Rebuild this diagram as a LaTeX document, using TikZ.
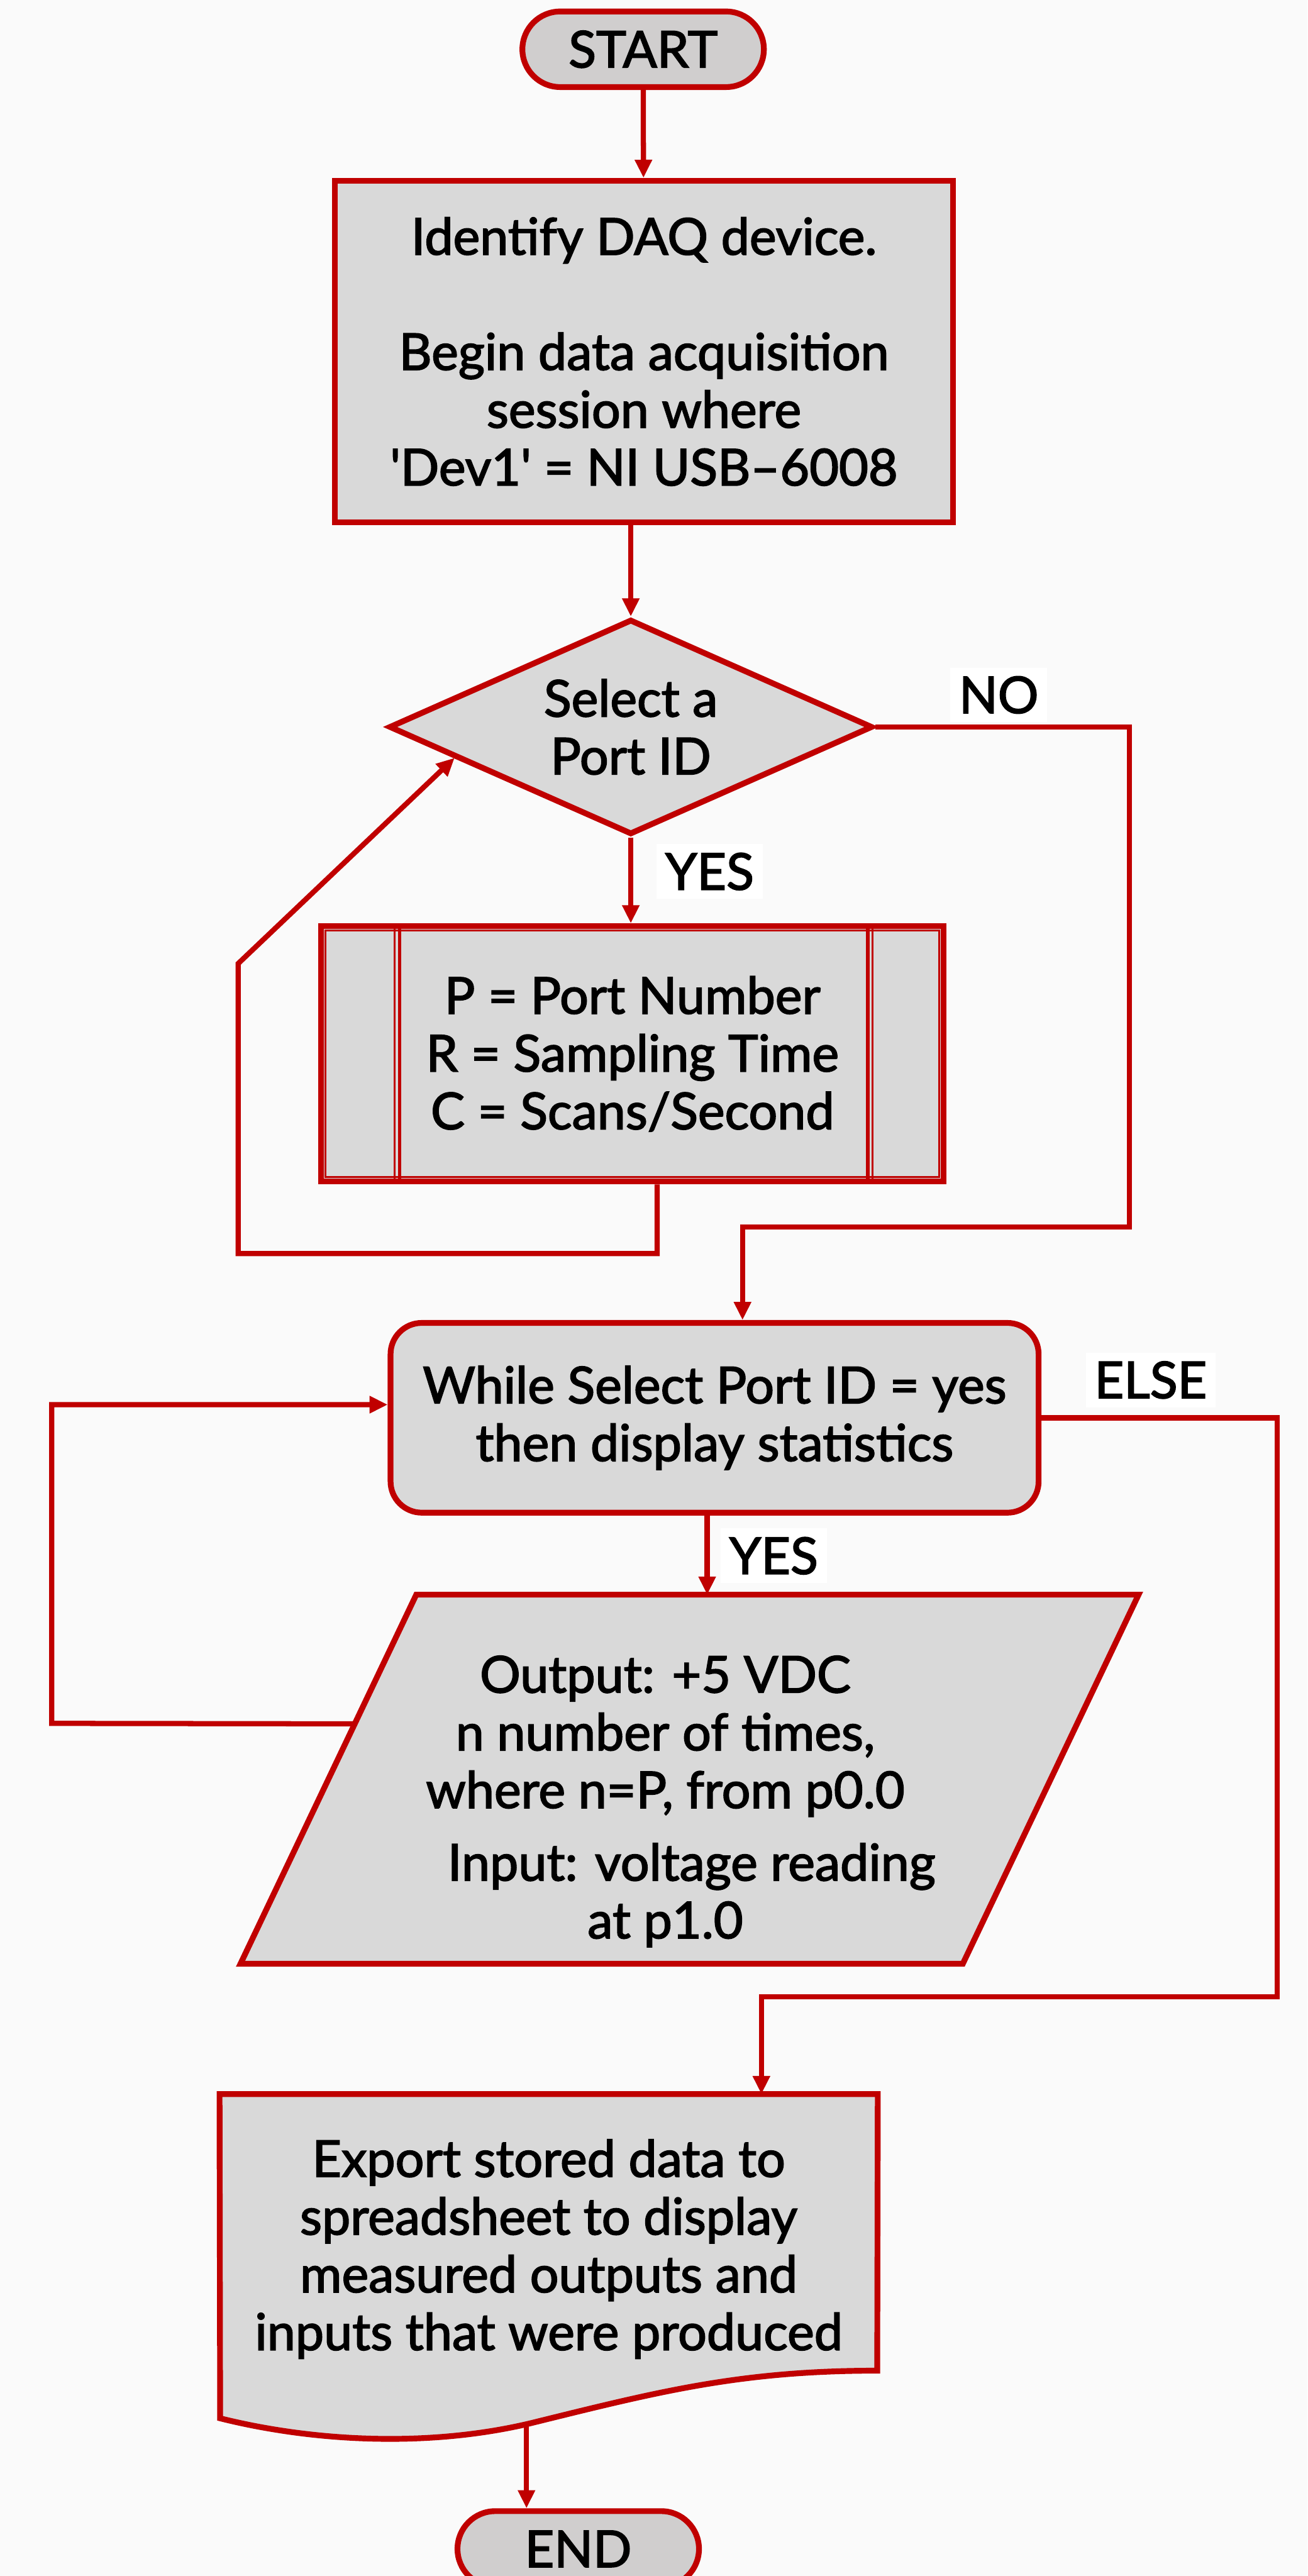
\documentclass[tikz,border=0pt]{standalone}
\usepackage{fontspec}
\setmainfont{Lato}[FakeBold=2.2]
\usetikzlibrary{shapes.geometric, arrows.meta, positioning, calc, backgrounds}

\definecolor{flowred}{RGB}{192,0,0}
\definecolor{boxgray}{RGB}{217,217,217}
\definecolor{termgray}{RGB}{208,206,206}
\definecolor{paper}{RGB}{250,250,250}
\newcommand{\flowfont}{\fontsize{17.6}{20}\selectfont}

\begin{document}
\begin{tikzpicture}[
    % Terminal (start / end)
    terminal/.style={
        rectangle,
        rounded corners=0.46cm,
        draw=flowred,
        line width=2pt,
        fill=termgray,
        minimum width=2.94cm,
        minimum height=0.92cm,
        font=\flowfont
    },
    % Process box
    process/.style={
        rectangle,
        draw=flowred,
        line width=2pt,
        fill=boxgray,
        minimum width=7.52cm,
        minimum height=4.16cm,
        align=center,
        font=\flowfont
    },
    % Decision
    decision/.style={
        diamond,
        aspect=2.25,
        draw=flowred,
        line width=2pt,
        fill=boxgray,
        minimum width=5.89cm,
        minimum height=2.62cm,
        inner sep=0pt,
        align=center,
        font=\flowfont
    },
    % Predefined process
    predef/.style={
        rectangle,
        draw=flowred,
        line width=2pt,
        fill=boxgray,
        minimum width=7.58cm,
        minimum height=3.11cm,
        align=center,
        font=\flowfont
    },
    % Loop box
    loopbox/.style={
        rectangle,
        rounded corners=0.38cm,
        draw=flowred,
        line width=2pt,
        fill=boxgray,
        minimum width=7.89cm,
        minimum height=2.31cm,
        align=center,
        font=\flowfont
    },
    % Frames drawn on the background
    frame/.style={
        draw=flowred,
        line width=2pt,
        fill=boxgray
    },
    textbox/.style={
        rectangle,
        align=center,
        font=\flowfont
    },
    % Branch labels
    answer/.style={
        fill=white,
        inner sep=3pt,
        font=\flowfont
    },
    % Arrow style
    arrow/.style={
        draw=flowred,
        line width=1.8pt,
        -{Triangle[length=0.22cm, width=0.2cm]}
    }
]

\useasboundingbox (0,0) rectangle (15.92,-31.36);

% === Start ===
\node[terminal] (start) at (7.83,-0.60) {START};

% === DAQ session ===
\node[process] (daq) at (7.84,-4.28) {Identify DAQ device.\\[0.7cm]
    Begin data acquisition\\ session where\\
    \textquotesingle Dev1\textquotesingle{} = NI USB–6008};

% === Port selection ===
\node[decision] (select) at (7.68,-8.85) {Select a\\ Port ID};
\node[answer] (no) at (12.16,-8.46) {NO};
\node[answer] (yes1) at (8.64,-10.61) {YES};

\node[predef] (params) at (7.70,-12.83) {P = Port Number\\ R = Sampling Time\\ C = Scans/Second};
\draw[flowred, line width=0.6pt] ([shift={(0.09,-0.09)}]params.north west) rectangle ([shift={(-0.09,0.09)}]params.south east);
\draw[flowred, line width=1.2pt] ([xshift=0.99cm]params.north west) -- ([xshift=0.99cm]params.south west);
\draw[flowred, line width=0.6pt] ([xshift=0.93cm]params.north west) -- ([xshift=0.93cm]params.south west);
\draw[flowred, line width=1.2pt] ([xshift=-0.96cm]params.north east) -- ([xshift=-0.96cm]params.south east);
\draw[flowred, line width=0.6pt] ([xshift=-0.90cm]params.north east) -- ([xshift=-0.90cm]params.south east);

% === While loop ===
\node[loopbox] (while) at (8.70,-17.26) {While Select Port ID = yes\\ then display statistics};
\node[answer] (else) at (14.01,-16.80) {ELSE};
\node[answer] (yes2) at (9.42,-18.94) {YES};

% === Output / input ===
\node[textbox, minimum width=8.78cm, minimum height=4.48cm] (io) at (8.10,-21.66) {};
\node[textbox] (iotext) at (8.10,-21.93) {Output: +5 VDC\\ n number of times,\\ where n=P, from p0.0\\[0.18cm]
    \hspace*{0.64cm}Input: voltage reading\\ at p1.0};
\coordinate (io-tl) at ([xshift=1.365cm]io.north west);
\coordinate (io-tr) at ([xshift=1.365cm]io.north east);
\coordinate (io-br) at ([xshift=-0.775cm]io.south east);
\coordinate (io-bl) at ([xshift=-0.775cm]io.south west);

% === Export ===
\node[textbox, minimum width=8.0cm, minimum height=3.68cm] (export) at (6.68,-27.38) {Export stored data to\\
    spreadsheet to display\\ measured outputs and\\ inputs that were produced};
\coordinate (export-end) at (6.41,-29.51);

% === End ===
\node[terminal] (end) at (7.04,-31.03) {END};

\begin{scope}[on background layer]
    \fill[paper] (0,0) rectangle (15.92,-31.36);
    \path[frame] (io-tl) -- (io-tr) -- (io-br) -- (io-bl) -- cycle;
    \path[frame] ([yshift=0.04cm]export.north west) -- ([yshift=0.04cm]export.north east) -- (10.68,-28.86)
        .. controls (9.0,-28.86) and (8.0,-29.12) .. (6.46,-29.5)
        .. controls (5.2,-29.8) and (3.8,-29.72) .. (2.68,-29.44) -- cycle;
\end{scope}

% === Arrows ===
\draw[arrow] (start) -- (daq);
\draw[arrow] (select.north |- daq.south) -- (select.north);
\draw[arrow] (select.south) -- (select.south |- params.north);
\draw[arrow] ([xshift=0.3cm]params.south) -- (8.0,-15.26) -- (2.9,-15.26) -- (2.9,-11.73)
    -- ($(select.west)!0.28!(select.south)$);
\draw[arrow] (select.east) -- (13.75,-8.85) -- (13.75,-14.94) -| ([xshift=0.34cm]while.north);
\draw[arrow] ([xshift=-0.09cm]while.south) -- ([xshift=-0.09cm]while.south |- io.north);
\draw[arrow] ($(io-tl)!0.35!(io-bl)$) -- (0.63,-20.98) -- (0.63,-17.10) -- ([yshift=0.16cm]while.west);
\draw[arrow] (while.east) -- (15.55,-17.26) -- (15.55,-24.31) -| ([xshift=2.59cm,yshift=0.04cm]export.north);
\draw[arrow] (export-end) -- (export-end |- end.north);

\end{tikzpicture}
\end{document}
